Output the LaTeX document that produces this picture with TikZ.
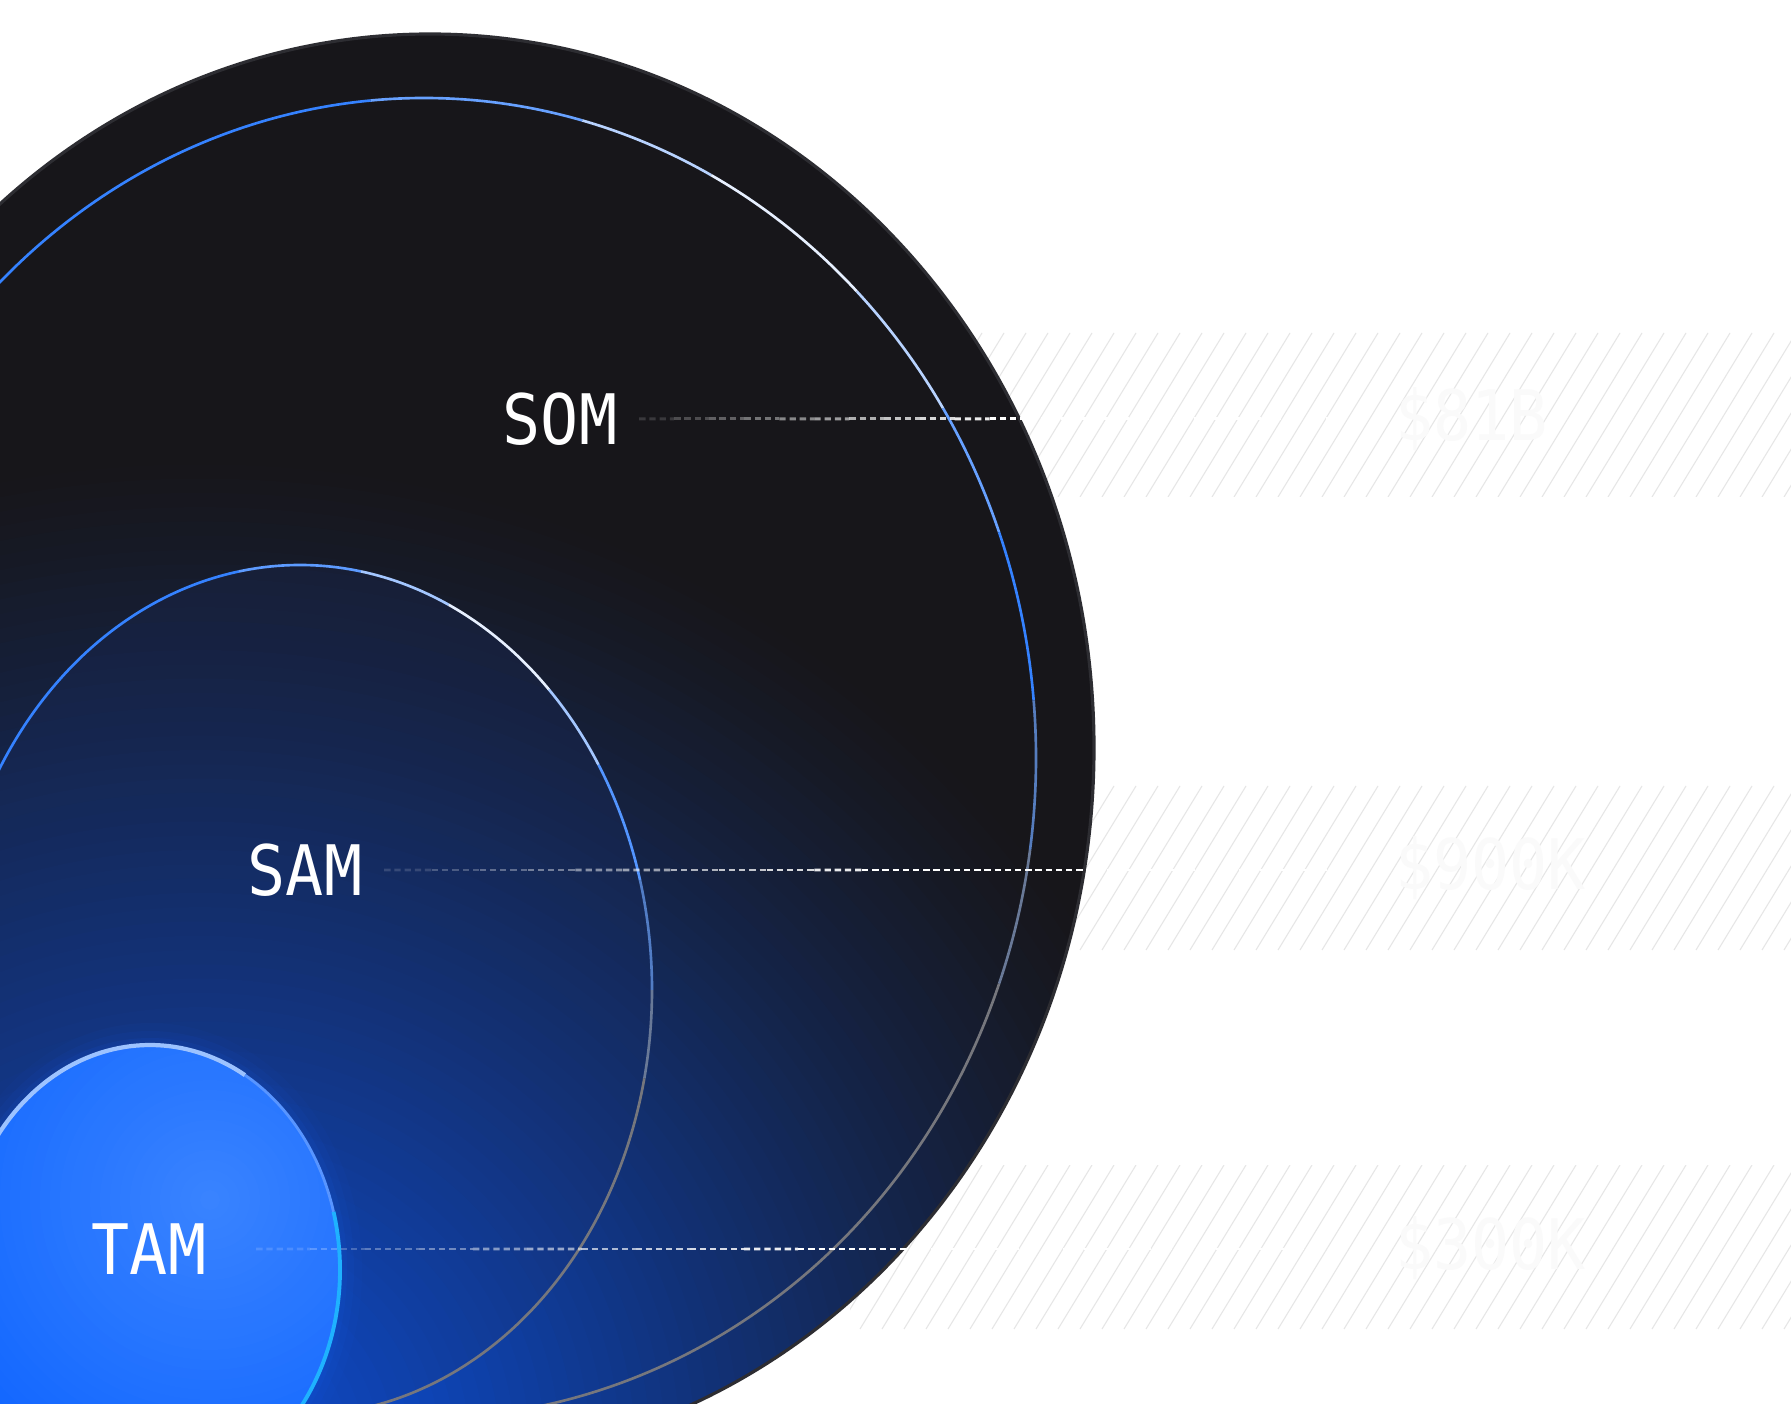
\documentclass[tikz,border=0pt]{standalone}
\usepackage{fontspec}
\usepackage{graphicx}
\usepackage{tikz}
\usetikzlibrary{calc}
\newfontfamily\marketfont{DejaVu Sans Mono}

\definecolor{discbg}{HTML}{17161A}
\definecolor{discrim}{HTML}{2D2D32}
\definecolor{glowA}{HTML}{0A55EE}
\definecolor{samtint}{HTML}{1B3170}
\definecolor{ringblue}{HTML}{3582FF}
\definecolor{ringgray}{HTML}{76777D}
\definecolor{tamhi}{HTML}{3A84FF}
\definecolor{tambase}{HTML}{1367FF}
\definecolor{tamrim}{HTML}{9DC3FF}
\definecolor{tamcyan}{HTML}{1FB2FF}
\definecolor{hatchgray}{HTML}{E6E6E6}

\newcommand\tallt[1]{\scalebox{1}[1.1]{#1}}

\tikzset{
  mktext/.style={text=white, font=\marketfont\fontsize{18}{18}\selectfont, inner sep=0pt, outer xsep=0.22cm},
  mkvalue/.style={text=white!98!black, font=\marketfont\fontsize{18}{18}\selectfont, inner sep=0pt, outer xsep=0.55cm, anchor=west},
  leader/.style={white, line width=0.85pt, dash pattern=on 1.8pt off 1.1pt},
  ring/.style={line width=0.75pt},
  hatchline/.style={hatchgray, line width=0.3pt},
}

\begin{document}
\begin{tikzpicture}[x=0.01cm, y=-0.01cm]
  \useasboundingbox (0,0) rectangle (1791,1404);
  \clip (0,0) rectangle (1791,1404);
  \fill[white] (0,0) rectangle (1791,1404);

  % hatched bands behind the values
  \foreach \yy in {333,786,1165}{
    \begin{scope}
      \clip (850,\yy) rectangle (1791,\yy+164);
      \foreach \xx in {750,772,...,1800}
        \draw[hatchline] (\xx,\yy+164) -- ++(100,-164);
    \end{scope}
  }

  % outer disc with the blue glow from the lower left
  \fill[discbg] (430,748) ellipse [x radius=664, y radius=714];
  \begin{scope}
    \clip (430,748) ellipse [x radius=664, y radius=714];
    \foreach \k in {0,...,69}{
      \pgfmathsetmacro\s{1-\k/70}
      \pgfmathsetmacro\m{100*(1-\s)^1.2}
      \fill[glowA!\m!discbg] (200,1450) ellipse [x radius=1050*\s, y radius=1000*\s];
    }
    % SAM is a little bluer inside
    \fill[samtint, opacity=0.2] (300,990) ellipse [x radius=352, y radius=425];
  \end{scope}
  \draw[discrim, line width=0.9pt] (430,748) ellipse [x radius=664, y radius=714];

  % thin ring (angles in tikz sense, y runs down)
  \foreach \s/\e/\c in {-140/-95/ringblue, -95/-75/ringblue!75!white, -75/-62/ringblue!35!white,
      -62/-45/white!88!ringblue, -45/-32/ringblue!35!white, -32/-20/ringblue!75!white,
      -20/-5/ringblue, -5/8/ringblue!50!ringgray, 8/20/ringgray!80!ringblue, 20/110/ringgray}
    \draw[ring, draw=\c] (424,758) ++(\s:612 and 660) arc[start angle=\s, end angle=\e, x radius=612, y radius=660];

  % SAM ring
  \foreach \s/\e/\c in {-150/-100/ringblue, -100/-80/ringblue!80!white, -80/-65/ringblue!45!white,
      -65/-45/white!88!ringblue, -45/-32/ringblue!45!white, -32/-15/ringblue!85!white,
      -15/0/ringblue!55!ringgray, 0/12/ringgray!80!ringblue, 12/100/ringgray}
    \draw[ring, draw=\c] (300,990) ++(\s:352 and 425) arc[start angle=\s, end angle=\e, x radius=352, y radius=425];

  % TAM disc
  \foreach \g/\o in {22/0.04, 14/0.06, 7/0.08}
    \fill[tambase, opacity=\o] (150,1270) ellipse [x radius=190+\g, y radius=225+\g];
  \begin{scope}
    \clip (150,1270) ellipse [x radius=190, y radius=225];
    \foreach \r in {440,430,...,10}{
      \pgfmathsetmacro\m{100*max(0,1-\r/300)}
      \fill[tamhi!\m!tambase] (210,1200) circle [radius=\r];
    }
  \end{scope}
  \foreach \s/\e/\c/\w in {-175/-60/tamrim/1.2pt, -60/-15/tambase!50!tamrim/0.8pt, -15/100/tamcyan/1.1pt}
    \draw[draw=\c, line width=\w] (150,1270) ++(\s:190 and 225) arc[start angle=\s, end angle=\e, x radius=190, y radius=225];

  % labels and values
  \node[mktext] (som) at (560,419) {\tallt{SOM}};
  \node[mktext] (sam) at (305,870) {\tallt{SAM}};
  \node[mktext, outer xsep=0.5cm] (tam) at (149,1249) {\tallt{TAM}};
  \node[mkvalue] (somval) at (1340,419) {\tallt{\$81B}};
  \node[mkvalue] (samval) at (1340,868) {\tallt{\$900K}};
  \node[mkvalue] (tamval) at (1340,1248) {\tallt{\$300K}};

  % dashed leaders, faded near the label
  \foreach \a/\b in {som/somval, sam/samval, tam/tamval}{
    \foreach \k [evaluate=\k as \o using 0.15+0.085*\k] in {0,...,9}
      \draw[leader, draw opacity=\o] ($(\a.east)!\k/20!(\a.east -| \b.west)$) -- ($(\a.east)!\k/20+0.05!(\a.east -| \b.west)$);
    \draw[leader] ($(\a.east)!0.5!(\a.east -| \b.west)$) -- (\a.east -| \b.west);
  }
\end{tikzpicture}
\end{document}
